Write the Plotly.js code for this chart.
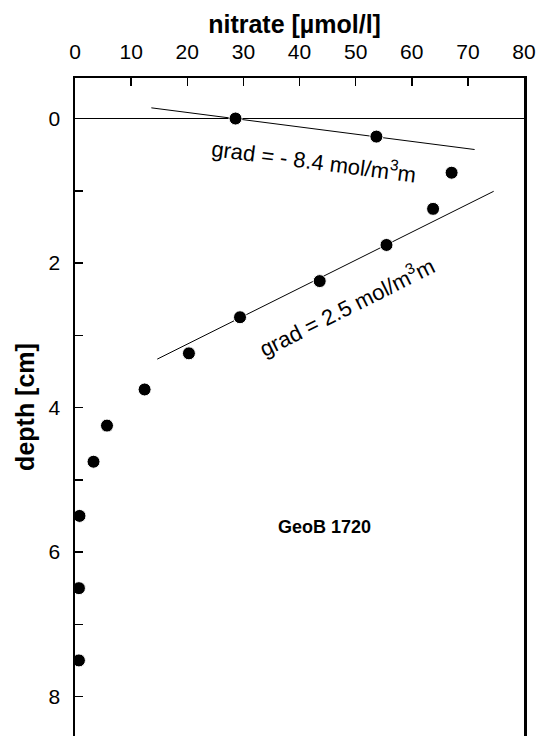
<!DOCTYPE html>
<html>
<head>
<meta charset="utf-8">
<script src="https://cdn.plot.ly/plotly-3.0.1.min.js"></script>
<style>html,body{margin:0;padding:0;background:#fff;}#chart{width:546px;height:736px;}</style>
</head>
<body>
<div id="chart"></div>
<script>
// Measured profile (GeoB 1720)
const depth = [0, 0.25, 0.75, 1.25, 1.75, 2.25, 2.75, 3.25, 3.75, 4.25, 4.75, 5.5, 6.5, 7.5];
const nitrate = [28.6, 53.7, 67.1, 63.8, 55.5, 43.6, 29.4, 20.3, 12.4, 5.7, 3.3, 0.8, 0.7, 0.7];

// Gradient fit lines (end points)
const fitUpperNitrate = [13.6, 71.2];
const fitUpperDepth = [-0.148, 0.429];
const fitLowerNitrate = [14.65, 74.6];
const fitLowerDepth = [3.33, 1.007];

// Axis ticks
const xTickVals = [0, 10, 20, 30, 40, 50, 60, 70, 80];
const yTickVals = [0, 1, 2, 3, 4, 5, 6, 7, 8];
const yTickText = ['0', '', '2', '', '4', '', '6', '', '8'];

// Labels
const gradUpperText = 'grad = - 8.4 mol/m<sup>3</sup>m';
const gradLowerText = 'grad = 2.5 mol/m<sup>3</sup>m';
const coreLabel = '<b>GeoB 1720</b>';

const FONT = 'Arial, "Liberation Sans", Helvetica, sans-serif';

const traces = [
  {x: fitUpperNitrate, y: fitUpperDepth, mode: 'lines', type: 'scatter',
   line: {color: '#000', width: 1}, hoverinfo: 'skip', showlegend: false},
  {x: fitLowerNitrate, y: fitLowerDepth, mode: 'lines', type: 'scatter',
   line: {color: '#000', width: 1}, hoverinfo: 'skip', showlegend: false},
  {x: nitrate, y: depth, mode: 'markers', type: 'scatter',
   marker: {color: '#000', size: 13, line: {color: '#fff', width: 1}}, showlegend: false}
];

const layout = {
  width: 546, height: 736,
  margin: {l: 75, r: 22, t: 78, b: 0, pad: 0},
  paper_bgcolor: '#fff', plot_bgcolor: '#fff',
  font: {family: FONT, color: '#000', size: 21},
  showlegend: false,
  title: {text: '<b>nitrate [µmol/l]</b>', font: {family: FONT, size: 25, color: '#000'},
          xref: 'paper', x: 0.489, xanchor: 'center', yref: 'container', y: 1 - 24/736, yanchor: 'middle'},
  xaxis: {
    side: 'top', range: [0, 80], tickvals: xTickVals,
    ticks: 'inside', ticklen: 8, tickwidth: 1.5, tickcolor: '#000',
    showline: true, linewidth: 2.5, linecolor: '#000', mirror: false,
    showgrid: false, zeroline: false,
    tickfont: {family: FONT, size: 21, color: '#000'}, ticklabelstandoff: 8
  },
  yaxis: {
    range: [8.546, -0.561], tickvals: yTickVals, ticktext: yTickText,
    ticks: 'inside', ticklen: 8, tickwidth: 1.5, tickcolor: '#000',
    showline: true, linewidth: 2.5, linecolor: '#000', mirror: true,
    showgrid: false, zeroline: true, zerolinecolor: '#000', zerolinewidth: 1,
    tickfont: {family: FONT, size: 21, color: '#000'}, ticklabelstandoff: 8,
    title: {text: '<b>depth [cm]</b>', font: {family: FONT, size: 25, color: '#000'}, standoff: 7}
  },
  annotations: [
    {x: 42.5, y: 0.573, xref: 'x', yref: 'y', text: gradUpperText, showarrow: false,
     textangle: 7.4, font: {family: FONT, size: 22, color: '#000'}, xanchor: 'center', yanchor: 'middle'},
    {x: 48.4, y: 2.59, xref: 'x', yref: 'y', text: gradLowerText, showarrow: false,
     textangle: -26.5, font: {family: FONT, size: 22, color: '#000'}, xanchor: 'center', yanchor: 'middle'},
    {x: 44.5, y: 5.65, xref: 'x', yref: 'y', text: coreLabel, showarrow: false,
     font: {family: FONT, size: 18, color: '#000'}, xanchor: 'center', yanchor: 'middle'}
  ]
};

Plotly.newPlot('chart', traces, layout, {staticPlot: true, displayModeBar: false});
</script>
</body>
</html>
